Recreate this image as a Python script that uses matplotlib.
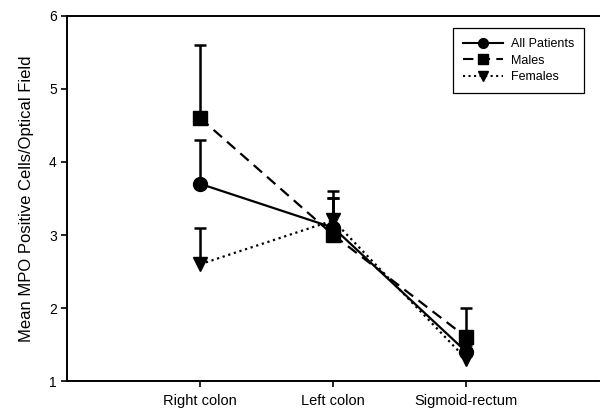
import matplotlib
matplotlib.use("Agg")
import matplotlib.pyplot as plt
from matplotlib.lines import Line2D

# Data
regions = ["Right colon", "Left colon", "Sigmoid-rectum"]
all_mean = [3.7, 3.1, 1.4]
all_upper = [4.3, 3.5, 1.6]
male_mean = [4.6, 3.0, 1.6]
male_upper = [5.6, 3.5, 2.0]
female_mean = [2.6, 3.2, 1.3]
female_upper = [3.1, 3.6, 1.5]

plt.rcParams['font.family'] = ['Liberation Sans', 'DejaVu Sans']

fig = plt.figure(figsize=(6, 4.08), dpi=100)
ax = fig.add_axes([0.112, 0.066, 0.887, 0.895])

x = [1, 2, 3]
series = [
    ("All Patients", all_mean, all_upper, "-", "o"),
    ("Males", male_mean, male_upper, (0, (5, 3)), "s"),
    ("Females", female_mean, female_upper, ":", "v"),
]
handles = []
for label, mean, upper, ls, mk in series:
    # upper-only error bars with a cap at the top
    ax.vlines(x, mean, upper, color="black", linewidth=1.8, zorder=2)
    ax.plot(x, upper, linestyle="none", marker="_", markersize=9,
            markeredgewidth=1.8, color="black", zorder=2)
    ax.plot(x, mean, color="black", linestyle=ls, linewidth=1.6, zorder=3)
    ax.plot(x, mean, linestyle="none", marker=mk, markersize=10,
            color="black", zorder=4)
    handles.append(Line2D([], [], color="black", linestyle=ls, linewidth=1.5,
                          marker=mk, markersize=7, label=label))

ax.set_xlim(0, 4)
ax.set_ylim(1, 6)
ax.set_xticks(x)
ax.set_xticklabels(regions, fontsize=10.5)
ax.set_yticks([1, 2, 3, 4, 5, 6])
ax.tick_params(axis="y", labelsize=10, length=4, width=1.2)
ax.tick_params(axis="x", length=4, width=1.2, pad=5)
ax.set_ylabel("Mean MPO Positive Cells/Optical Field", fontsize=12, labelpad=11)
ax.spines["right"].set_visible(False)
for s in ["left", "bottom", "top"]:
    ax.spines[s].set_linewidth(1.4)

leg = ax.legend(handles=handles, loc="upper right",
                bbox_to_anchor=(0.972, 0.967), borderaxespad=0, fontsize=9,
                fancybox=False, edgecolor="black", framealpha=1,
                handlelength=3.2, handletextpad=0.65, borderpad=0.8,
                labelspacing=0.38)
leg.get_frame().set_linewidth(0.9)

fig.savefig("out.png", dpi=100)
